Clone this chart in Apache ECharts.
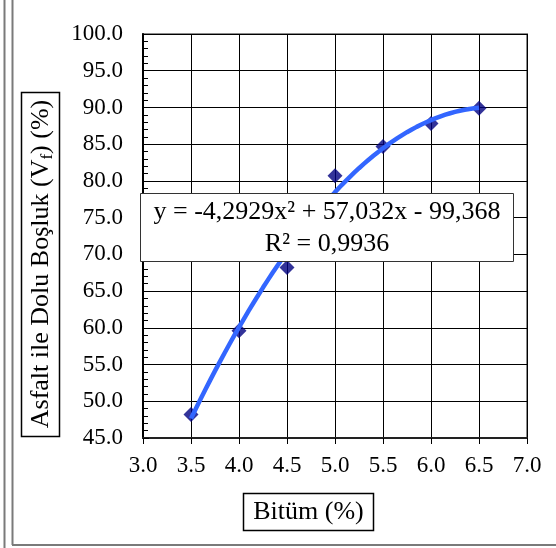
<!DOCTYPE html>
<html>
<head>
<meta charset="utf-8">
<script src="https://cdn.jsdelivr.net/npm/echarts@6/dist/echarts.min.js"></script>
<style>
  html, body { margin: 0; padding: 0; background: #fff; }
  #chart { width: 556px; height: 548px; }
</style>
</head>
<body>
<div id="chart"></div>
<script>
// Bitumen content (%) and measured voids filled with asphalt (%)
const bitumen = [3.5, 4.0, 4.5, 5.0, 5.5, 6.0, 6.5];
const vfa = [48.2, 59.6, 68.2, 80.7, 84.7, 87.8, 89.9];

// Second-order polynomial trendline: a*x^2 + b*x + c
const trendCoef = [-4.2929, 57.032, -99.368];
const rSquared = [0.9936];

// Axis ranges and tick spacing
const xRange = [3.0, 7.0, 0.5];
const yRange = [45.0, 100.0, 5.0];

const FONT = "'Liberation Serif', 'Times New Roman', serif";

// Trendline drawn over the fitted span of the data
const trendPts = [];
for (let i = 0; i <= 60; i++) {
  const x = bitumen[0] + (bitumen[bitumen.length - 1] - bitumen[0]) * i / 60;
  trendPts.push([x, trendCoef[0] * x * x + trendCoef[1] * x + trendCoef[2]]);
}

const fmt = (v, d) => Math.abs(v).toFixed(d).replace('.', ',');
const eqLine1 = 'y = ' + (trendCoef[0] < 0 ? '-' : '') + fmt(trendCoef[0], 4) + 'x² ' +
  (trendCoef[1] < 0 ? '- ' : '+ ') + fmt(trendCoef[1], 3) + 'x ' +
  (trendCoef[2] < 0 ? '- ' : '+ ') + fmt(trendCoef[2], 3);
const eqLine2 = 'R² = ' + fmt(rSquared[0], 4);

const chart = echarts.init(document.getElementById('chart'), null, { renderer: 'canvas' });

chart.setOption({
  animation: false,
  backgroundColor: '#fff',
  grid: {
    left: 143, right: 29, top: 34, bottom: 110,
    show: true, borderColor: '#8a8a8a', borderWidth: 2, backgroundColor: '#fff'
  },
  xAxis: {
    type: 'value',
    min: xRange[0], max: xRange[1], interval: xRange[2],
    axisLine: { show: true, lineStyle: { color: '#222', width: 2 } },
    axisTick: { show: true, inside: false, length: 6, lineStyle: { color: '#000', width: 1 } },
    axisLabel: {
      margin: 16, color: '#000', fontFamily: FONT, fontSize: 23,
      formatter: v => v.toFixed(1)
    },
    splitLine: { show: true, lineStyle: { color: '#000', width: 1 } }
  },
  yAxis: {
    type: 'value',
    min: yRange[0], max: yRange[1], interval: yRange[2],
    axisLine: { show: true, lineStyle: { color: '#000', width: 2 } },
    axisTick: { show: true, inside: true, length: 6, lineStyle: { color: '#000', width: 1 } },
    minorTick: { show: true, splitNumber: 5, length: 5, lineStyle: { color: '#000', width: 1 } },
    axisLabel: {
      margin: 20, color: '#000', fontFamily: FONT, fontSize: 23,
      formatter: v => v.toFixed(1)
    },
    splitLine: { show: true, lineStyle: { color: '#000', width: 1 } }
  },
  series: [
    {
      name: 'Vf',
      type: 'scatter',
      data: bitumen.map((x, i) => [x, vfa[i]]),
      symbol: 'diamond',
      symbolSize: 15,
      itemStyle: { color: '#000080' },
      z: 3
    },
    {
      name: 'Trend',
      type: 'line',
      data: trendPts,
      showSymbol: false,
      smooth: false,
      lineStyle: { color: '#3366ff', width: 4.5 },
      z: 4
    }
  ],
  graphic: [
    // outer frame lines
    { type: 'line', shape: { x1: 4.5, y1: 0, x2: 4.5, y2: 548 }, style: { stroke: '#7a7a7a', lineWidth: 2 }, z: 100 },
    { type: 'line', shape: { x1: 12.5, y1: 0, x2: 12.5, y2: 545 }, style: { stroke: '#7a7a7a', lineWidth: 2 }, z: 100 },
    { type: 'line', shape: { x1: 12, y1: 545, x2: 556, y2: 545 }, style: { stroke: '#7a7a7a', lineWidth: 2 }, z: 100 },

    // y-axis title box
    { type: 'rect', shape: { x: 21.5, y: 92.5, width: 38, height: 344 }, style: { fill: '#fff', stroke: '#000', lineWidth: 1.5 }, z: 100 },
    {
      type: 'text', x: 41, y: 264, rotation: Math.PI / 2, z: 101,
      style: {
        text: 'Asfalt ile Dolu Boşluk (V{sub|f}) (%)',
        fill: '#000', fontSize: 26, fontFamily: FONT,
        align: 'center', verticalAlign: 'middle', lineHeight: 30,
        rich: {
          sub: { fontSize: 17, fontFamily: FONT, lineHeight: 17, verticalAlign: 'bottom', fill: '#000' }
        }
      }
    },

    // x-axis title box
    { type: 'rect', shape: { x: 243.5, y: 493.5, width: 130, height: 37 }, style: { fill: '#fff', stroke: '#000', lineWidth: 1.5 }, z: 100 },
    {
      type: 'text', x: 308.5, y: 512, z: 101,
      style: {
        text: 'Bitüm (%)', fill: '#000', fontSize: 26, fontFamily: FONT,
        align: 'center', verticalAlign: 'middle'
      }
    },

    // trendline equation box
    { type: 'rect', shape: { x: 140.5, y: 193.5, width: 373, height: 68 }, style: { fill: '#fff', stroke: '#333', lineWidth: 1 }, z: 100 },
    {
      type: 'text', x: 327, y: 212, z: 101,
      style: { text: eqLine1, fill: '#000', fontSize: 26, fontFamily: FONT, align: 'center', verticalAlign: 'middle' }
    },
    {
      type: 'text', x: 327, y: 244, z: 101,
      style: { text: eqLine2, fill: '#000', fontSize: 26, fontFamily: FONT, align: 'center', verticalAlign: 'middle' }
    }
  ]
});
</script>
</body>
</html>
